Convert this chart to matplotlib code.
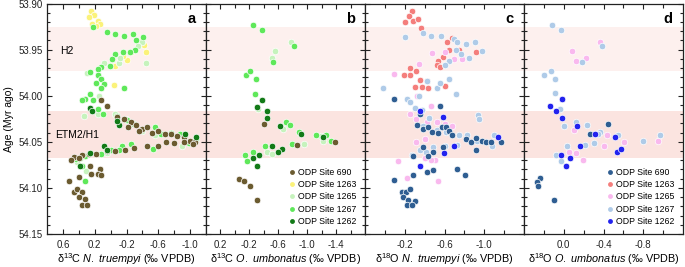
import matplotlib
matplotlib.use("Agg")
import matplotlib.pyplot as plt
from matplotlib.ticker import MultipleLocator, FixedLocator, FuncFormatter
from matplotlib.lines import Line2D

plt.rcParams['font.family'] = ['Liberation Sans', 'DejaVu Sans']
plt.rcParams['mathtext.fontset'] = 'custom'
plt.rcParams['mathtext.rm'] = 'Liberation Sans'
plt.rcParams['mathtext.it'] = 'Liberation Sans:italic'
plt.rcParams['axes.unicode_minus'] = False

# ---------------- data: (age Myr, isotope value) ----------------
# Panel a: d13C N. truempyi
A_690 = [(54.011, 0.04), (54.005, 0.12), (54.023, -0.08), (54.025, -0.17), (54.029, -0.26), (54.034, -0.22),
         (54.032, -0.32), (54.036, -0.40), (54.034, -0.46), (54.040, -0.52), (54.038, -0.60), (54.041, -0.68),
         (54.042, -0.76), (54.044, -0.84), (54.045, -0.92), (54.049, -1.00), (54.050, -1.06), (54.052, -1.04),
         (54.050, -0.92), (54.051, -0.80), (54.050, -0.70), (54.054, -0.60), (54.054, -0.46), (54.057, -0.30),
         (54.059, -0.18), (54.060, -0.06), (54.060, 0.04), (54.063, 0.18), (54.063, 0.27), (54.064, 0.36),
         (54.066, 0.46), (54.070, 0.50), (54.068, 0.40), (54.076, 0.26), (54.080, 0.13), (54.085, 0.16),
         (54.085, 0.25), (54.086, 0.12), (54.092, 0.52), (54.088, 0.40), (54.104, 0.46), (54.101, 0.42),
         (54.104, 0.36), (54.110, 0.40), (54.112, 0.32), (54.119, 0.36), (54.119, 0.30), (54.038, -0.36)]
A_1263 = [(53.908, 0.25), (53.912, 0.21), (53.915, 0.27), (53.919, 0.16), (53.922, 0.13), (53.924, 0.18),
          (53.922, 0.23), (53.945, -0.42), (53.952, -0.44), (53.941, -0.38), (53.961, -0.20), (53.957, -0.16),
          (53.968, -0.06), (53.988, -0.04), (53.953, -0.26)]
A_1265 = [(53.942, -0.40), (53.946, -0.34), (53.964, -0.44), (53.964, -0.10), (53.959, -0.12), (53.964, 0.08),
          (53.975, 0.30), (54.022, 0.34), (54.020, 0.16), (54.020, -0.06), (54.025, -0.19), (54.038, -0.40),
          (54.043, -0.56), (54.054, -0.90), (54.072, 0.42), (54.082, 0.31), (54.062, 0.04), (54.000, 0.14)]
A_1267 = [(53.925, 0.22), (53.931, 0.05), (53.933, -0.06), (53.935, -0.17), (53.933, -0.28), (53.939, -0.32),
          (53.936, -0.41), (53.950, -0.31), (53.952, -0.25), (53.953, -0.16), (53.955, -0.06), (53.960, -0.02),
          (53.968, 0.01), (53.969, 0.12), (53.971, 0.16), (53.974, 0.26), (53.978, 0.16), (53.982, 0.12),
          (53.986, 0.18), (53.987, 0.08), (53.992, 0.12), (53.992, -0.17), (53.998, 0.26), (54.003, 0.32),
          (54.005, 0.22), (54.014, 0.16), (54.005, 0.36), (54.020, 0.10), (54.022, -0.08), (54.026, -0.20),
          (54.031, -0.30), (54.034, -0.56), (54.040, -0.76), (54.041, -0.87), (54.047, -1.08), (54.051, -0.98),
          (54.042, -0.63), (54.054, -0.14), (54.052, -0.26), (54.059, 0.00), (54.065, 0.32), (54.069, 0.44),
          (54.076, 0.36), (54.092, 0.32), (54.067, 0.38), (54.063, 0.12), (54.059, -0.10), (54.058, -0.53)]
A_1262 = [(54.013, 0.26), (54.017, 0.24), (54.032, -0.10), (54.027, -0.08), (54.045, -1.08), (54.041, -0.94),
          (54.054, 0.08), (54.059, 0.05), (54.062, 0.26), (54.076, 0.39)]

# Panel b: d13C O. umbonatus
B_690 = [(54.031, -0.40), (54.053, -0.86), (54.050, -1.38), (54.090, -0.05), (54.093, -0.13), (54.098, -0.21),
         (54.113, -0.30)]
B_1263 = []
B_1265 = [(53.942, -0.77), (53.959, -0.51), (53.951, -0.55), (54.036, -0.67), (54.040, -0.90), (54.049, -1.22),
          (54.052, -0.95), (54.061, -0.44), (54.063, -0.51), (54.014, -0.32), (54.044, -1.19)]
B_1267 = [(53.923, -0.25), (53.929, -0.37), (53.946, -0.82), (53.963, -0.53), (53.978, -0.15), (53.973, -0.21),
          (53.982, -0.29), (53.998, -0.28), (54.028, -0.71), (54.032, -0.76), (54.052, -0.79), (54.043, -1.12),
          (54.043, -1.26), (54.049, -1.33), (54.064, -0.14), (54.071, -0.17), (54.061, -0.25), (54.054, -0.42),
          (54.039, -0.89)]
B_1262 = [(54.005, -0.38), (54.012, -0.31), (54.017, -0.45), (54.024, -0.45), (54.033, -0.63), (54.041, -0.92),
          (54.045, -1.22), (54.055, -0.52), (54.058, -0.65), (54.061, -0.59), (54.064, -0.34), (54.068, -0.25),
          (54.076, -0.30)]

# Panel c: d18O N. truempyi
C_690 = [(54.003, -0.09), (54.020, -0.35), (54.011, -0.55), (54.032, -0.32), (54.036, -0.38), (54.034, -0.43),
         (54.039, -0.47), (54.040, -0.53), (54.034, -0.57), (54.034, -0.62), (54.038, -0.65), (54.043, -0.68),
         (54.047, -0.82), (54.050, -0.87), (54.046, -0.92), (54.049, -0.98), (54.050, -1.02), (54.050, -1.07),
         (54.050, -1.17), (54.059, -0.92), (54.054, -0.70), (54.056, -0.58), (54.061, -0.48), (54.065, -0.43),
         (54.056, -0.38), (54.065, -0.28), (54.086, -0.28), (54.083, -0.42), (54.081, -0.48), (54.079, -0.73),
         (54.086, -0.81), (54.091, -0.09), (54.104, -0.17), (54.104, -0.21), (54.101, -0.25), (54.110, -0.18),
         (54.113, -0.23), (54.114, -0.30), (54.119, -0.22), (54.119, -0.27)]
C_1263 = [(53.908, -0.27), (53.913, -0.24), (53.920, -0.20), (53.919, -0.28), (53.917, -0.33), (53.926, -0.36),
          (53.937, -0.68), (53.942, -0.63), (53.950, -0.65), (53.950, -0.75), (53.953, -0.92), (53.958, -0.58),
          (53.962, -0.53), (53.967, -0.52), (53.969, -0.55), (53.977, -0.25), (53.973, -0.31), (53.977, -0.19),
          (53.983, -0.35), (53.984, -0.42), (53.990, -0.37), (53.992, -0.43), (53.991, -0.30), (53.989, -0.61),
          (53.970, -0.25)]
C_1265 = [(53.976, -0.09), (53.966, -0.34), (53.952, -0.61), (53.960, -0.70), (53.960, -0.78), (53.954, -0.47),
          (54.000, -0.32), (54.011, -0.46), (54.020, -0.25), (54.025, -0.31), (54.028, -0.42), (54.028, -0.52),
          (54.031, -0.60), (54.033, -0.68), (54.047, -0.40), (54.050, -0.31), (54.070, -0.50), (54.070, -0.46),
          (54.071, -0.13), (54.089, -0.22), (54.092, -0.53), (54.068, -0.40)]
C_1267 = [(53.936, -0.20), (53.932, -0.38), (53.935, -0.46), (53.935, -0.56), (53.938, -0.70), (53.942, -0.73),
          (53.944, -0.82), (53.942, -0.91), (53.950, -0.72), (53.955, -0.77), (53.959, -0.85), (53.951, -0.98),
          (53.962, -0.65), (53.967, -0.61), (53.992, 0.02), (54.004, -0.22), (54.007, -0.25), (54.000, -0.34),
          (53.984, -0.42), (53.992, -0.52), (53.986, -0.55), (53.982, -0.65), (53.998, -0.72), (54.013, -0.30),
          (54.015, -0.37), (54.021, -0.94), (54.025, -0.95), (54.024, -0.44), (54.033, -0.38), (54.037, -0.52),
          (54.039, -0.62), (54.043, -0.75), (54.043, -0.83), (54.049, -0.93), (54.054, -1.08), (54.043, -1.10),
          (54.064, -0.27), (54.061, -0.41), (54.056, -0.48), (54.054, -0.60), (54.053, -0.73), (54.059, -0.35)]
C_1262 = [(54.017, -0.35), (54.023, -0.58), (54.076, -0.35), (54.045, -1.14), (54.062, -0.59), (54.054, -0.70)]

# Panel d: d18O O. umbonatus
D_690 = [(54.031, -0.45), (54.042, -0.26), (54.089, 0.24), (54.094, 0.27), (54.098, 0.26), (54.113, 0.10)]
D_1263 = []
D_1265 = [(53.942, -0.36), (53.951, -0.08), (53.962, -0.12), (53.959, -0.22), (54.037, -0.10), (54.043, -0.44),
          (54.054, -0.41), (54.050, -0.61), (54.049, -0.95), (54.061, -0.05), (54.062, -0.12), (54.070, -0.19)]
D_1267 = [(53.923, 0.12), (53.929, 0.03), (53.946, -0.38), (53.963, -0.18), (53.973, 0.13), (53.978, 0.20),
          (53.982, 0.09), (53.997, 0.09), (54.014, 0.04), (54.033, 0.00), (54.028, -0.12), (54.032, -0.23),
          (54.039, -0.36), (54.043, -0.55), (54.049, -0.80), (54.043, -0.97), (54.054, -0.03), (54.053, -0.21),
          (54.051, -0.30), (54.064, 0.08), (54.071, 0.03), (54.042, -0.34)]
D_1262 = [(54.004, 0.02), (54.011, 0.14), (54.017, 0.08), (54.024, 0.02), (54.033, -0.13), (54.042, -0.31),
          (54.045, -0.52), (54.061, -0.54), (54.058, -0.58), (54.055, -0.16), (54.064, 0.03), (54.068, -0.06),
          (54.076, -0.02)]

SITES = ['ODP Site 690', 'ODP Site 1263', 'ODP Site 1265', 'ODP Site 1267', 'ODP Site 1262']
C13_COLORS = ['#6b5b30', '#fbf27a', '#c6f3bd', '#5fe85a', '#127a17']
O18_COLORS = ['#2f5e92', '#f47e7c', '#f9b9ee', '#afcbe8', '#2222ee']

XLIMS = [(0.8, -1.2), (0.4, -1.8), (0.2, -1.4), (0.4, -1.2)]
XMAJOR = [[0.6, 0.2, -0.2, -0.6, -1.0], [0.2, -0.2, -0.6, -1.0, -1.4], [-0.2, -0.6, -1.0], [0.0, -0.4, -0.8]]
XMINOR = [[0.4, 0.0, -0.4, -0.8], [0.0, -0.4, -0.8, -1.2, -1.6], [0.0, -0.4, -0.8, -1.2], [0.2, -0.2, -0.6, -1.0]]
PANEL_LETTERS = ['a', 'b', 'c', 'd']
BANDS = [(53.925, 53.973, '#fdf0ee'), (54.016, 54.068, '#fbe4e0')]

series = [
    ([A_690, A_1263, A_1265, A_1267, A_1262], C13_COLORS),
    ([B_690, B_1263, B_1265, B_1267, B_1262], C13_COLORS),
    ([C_690, C_1263, C_1265, C_1267, C_1262], O18_COLORS),
    ([D_690, D_1263, D_1265, D_1267, D_1262], O18_COLORS),
]
draw_order = [1, 2, 3, 0, 4]

xlabels = [r'δ$^{13}$C $\mathit{N.\ truempyi}$ (‰ VPDB)',
           r'δ$^{13}$C $\mathit{O.\ umbonatus}$ (‰ VPDB)',
           r'δ$^{18}$O $\mathit{N.\ truempyi}$ (‰ VPDB)',
           r'δ$^{18}$O $\mathit{O.\ umbonatus}$ (‰ VPDB)']

fig = plt.figure(figsize=(6.85, 2.67), dpi=100)
left = 47 / 685
w = 159 / 685
bottom = 33 / 267
h = (234 - 3.6) / 267

fmt = FuncFormatter(lambda v, p: ('%.1f' % v).replace('-0.0', '0.0'))

for i in range(4):
    ax = fig.add_axes([left + i * w, bottom, w, h])
    ax.set_ylim(54.15, 53.90)
    ax.set_xlim(*XLIMS[i])
    for y0, y1, c in BANDS:
        ax.axhspan(y0, y1, color=c, zorder=0, lw=0)
    data, colors = series[i]
    for k in draw_order:
        pts = data[k]
        if pts:
            ages = [p[0] for p in pts]
            vals = [p[1] for p in pts]
            ax.scatter(vals, ages, s=22, c=colors[k], edgecolors='white', linewidths=0.5, zorder=3)
    ax.yaxis.set_major_locator(MultipleLocator(0.05))
    ax.yaxis.set_minor_locator(MultipleLocator(0.01))
    ax.xaxis.set_major_locator(FixedLocator(XMAJOR[i]))
    ax.xaxis.set_minor_locator(FixedLocator(XMINOR[i]))
    ax.xaxis.set_major_formatter(fmt)
    ax.tick_params(which='both', direction='in', top=True, right=True, labelsize=7, width=0.8, colors='#222222')
    ax.tick_params(which='major', length=3.5, pad=3)
    ax.tick_params(axis='x', which='major', pad=4)
    ax.tick_params(which='minor', length=2)
    ax.tick_params(axis='x', which='minor', length=3)
    for sp in ax.spines.values():
        sp.set_linewidth(0.9)
        sp.set_color('#222222')
    if i == 0:
        ax.yaxis.set_major_formatter(FuncFormatter(lambda v, p: '%.2f' % v))
        ax.set_ylabel('Age (Myr ago)', fontsize=7.5, labelpad=3)
        ax.text(0.64, 53.951, 'H2', fontsize=7.5, va='center', ha='left', zorder=4)
        ax.text(0.70, 54.043, 'ETM2/H1', fontsize=7.5, va='center', ha='left', zorder=4)
    else:
        ax.set_yticklabels([])
    ax.set_xlabel(xlabels[i], fontsize=7.8, labelpad=1.5)
    ax.text(0.935, 0.965, PANEL_LETTERS[i], transform=ax.transAxes, ha='right', va='top',
            fontsize=10.5, fontweight='bold', zorder=5)
    if i in (1, 3):
        handles = [Line2D([], [], marker='o', ls='', markersize=3.5, markerfacecolor=colors[k],
                          markeredgecolor='none') for k in range(5)]
        ax.legend(handles, SITES, loc='lower left', bbox_to_anchor=(0.525, 0.035), frameon=False,
                  fontsize=6.3, handlelength=0.6, handletextpad=0.4, labelspacing=0.38, borderpad=0.0,
                  borderaxespad=0.0)

fig.savefig('out.png', dpi=100)
